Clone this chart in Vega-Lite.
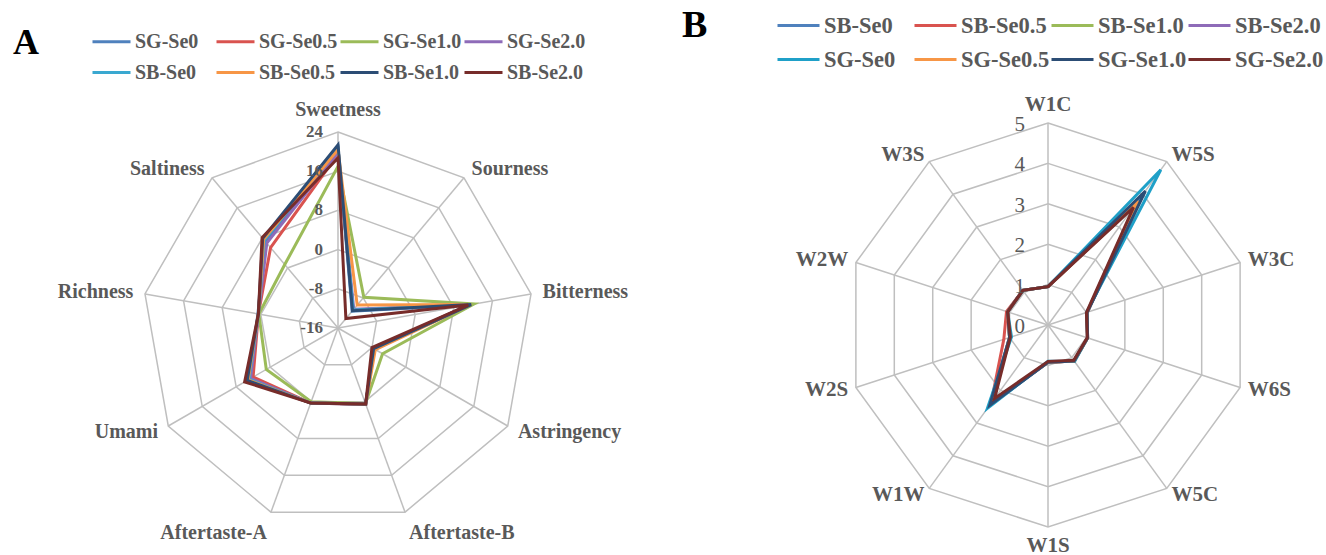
{
  "$schema": "https://vega.github.io/schema/vega-lite/v6.json",
  "padding": 0,
  "spacing": 0,
  "bounds": "flush",
  "config": {"view": {"stroke": null}},
  "datasets": {
    "axesA": [
      {"axis": "Sweetness", "rings": [-8, 0, 8, 16, 24]},
      {"axis": "Sourness", "rings": [-8, 0, 8, 16, 24]},
      {"axis": "Bitterness", "rings": [-8, 0, 8, 16, 24]},
      {"axis": "Astringency", "rings": [-8, 0, 8, 16, 24]},
      {"axis": "Aftertaste-B", "rings": [-8, 0, 8, 16, 24]},
      {"axis": "Aftertaste-A", "rings": [-8, 0, 8, 16, 24]},
      {"axis": "Umami", "rings": [-8, 0, 8, 16, 24]},
      {"axis": "Richness", "rings": [-8, 0, 8, 16, 24]},
      {"axis": "Saltiness", "rings": [-8, 0, 8, 16, 24]}
    ],
    "ticksA": [{"v": -16}, {"v": -8}, {"v": 0}, {"v": 8}, {"v": 16}, {"v": 24}],
    "seriesA": [
      {"series": "SG-Se0", "Sweetness": 20.8, "Sourness": -11.5, "Bitterness": 11.0, "Astringency": -7.6, "Aftertaste-B": 0.6, "Aftertaste-A": 0.3, "Umami": 4.8, "Richness": 0.6, "Saltiness": 7.0},
      {"series": "SG-Se0.5", "Sweetness": 19.5, "Sourness": -11.2, "Bitterness": 11.0, "Astringency": -7.6, "Aftertaste-B": 0.6, "Aftertaste-A": 0.3, "Umami": 4.0, "Richness": 0.5, "Saltiness": 5.4},
      {"series": "SG-Se1.0", "Sweetness": 17.0, "Sourness": -7.8, "Bitterness": 12.2, "Astringency": -5.5, "Aftertaste-B": 0.4, "Aftertaste-A": 0.0, "Umami": 0.9, "Richness": 0.4, "Saltiness": 0.9},
      {"series": "SG-Se2.0", "Sweetness": 19.8, "Sourness": -11.0, "Bitterness": 11.2, "Astringency": -7.4, "Aftertaste-B": 0.5, "Aftertaste-A": 0.3, "Umami": 4.6, "Richness": 0.5, "Saltiness": 6.6},
      {"series": "SB-Se0", "Sweetness": 20.6, "Sourness": -11.2, "Bitterness": 11.2, "Astringency": -7.5, "Aftertaste-B": 0.5, "Aftertaste-A": 0.3, "Umami": 5.0, "Richness": 0.5, "Saltiness": 7.4},
      {"series": "SB-Se0.5", "Sweetness": 20.4, "Sourness": -9.9, "Bitterness": 11.6, "Astringency": -7.2, "Aftertaste-B": 0.5, "Aftertaste-A": 0.3, "Umami": 5.2, "Richness": 0.5, "Saltiness": 7.6},
      {"series": "SB-Se1.0", "Sweetness": 21.4, "Sourness": -11.4, "Bitterness": 11.6, "Astringency": -7.6, "Aftertaste-B": 0.5, "Aftertaste-A": 0.3, "Umami": 5.4, "Richness": 0.5, "Saltiness": 7.9},
      {"series": "SB-Se2.0", "Sweetness": 18.7, "Sourness": -13.5, "Bitterness": 11.0, "Astringency": -8.0, "Aftertaste-B": 0.5, "Aftertaste-A": 0.3, "Umami": 6.0, "Richness": 0.5, "Saltiness": 8.1}
    ],
    "axesB": [
      {"axis": "W1C", "rings": [1, 2, 3, 4, 5]},
      {"axis": "W5S", "rings": [1, 2, 3, 4, 5]},
      {"axis": "W3C", "rings": [1, 2, 3, 4, 5]},
      {"axis": "W6S", "rings": [1, 2, 3, 4, 5]},
      {"axis": "W5C", "rings": [1, 2, 3, 4, 5]},
      {"axis": "W1S", "rings": [1, 2, 3, 4, 5]},
      {"axis": "W1W", "rings": [1, 2, 3, 4, 5]},
      {"axis": "W2S", "rings": [1, 2, 3, 4, 5]},
      {"axis": "W2W", "rings": [1, 2, 3, 4, 5]},
      {"axis": "W3S", "rings": [1, 2, 3, 4, 5]}
    ],
    "ticksB": [{"v": 0}, {"v": 1}, {"v": 2}, {"v": 3}, {"v": 4}, {"v": 5}],
    "seriesB": [
      {"series": "SB-Se0", "W1C": 0.95, "W5S": 3.95, "W3C": 1.02, "W6S": 1.03, "W5C": 1.1, "W1S": 0.92, "W1W": 2.45, "W2S": 1.0, "W2W": 1.05, "W3S": 1.06},
      {"series": "SB-Se0.5", "W1C": 0.95, "W5S": 3.75, "W3C": 1.02, "W6S": 1.03, "W5C": 1.1, "W1S": 0.92, "W1W": 2.4, "W2S": 1.15, "W2W": 1.08, "W3S": 1.06},
      {"series": "SB-Se1.0", "W1C": 0.95, "W5S": 3.7, "W3C": 1.02, "W6S": 1.03, "W5C": 1.1, "W1S": 0.92, "W1W": 2.35, "W2S": 1.0, "W2W": 1.05, "W3S": 1.06},
      {"series": "SB-Se2.0", "W1C": 0.95, "W5S": 3.7, "W3C": 1.02, "W6S": 1.03, "W5C": 1.1, "W1S": 0.92, "W1W": 2.35, "W2S": 1.0, "W2W": 1.05, "W3S": 1.06},
      {"series": "SG-Se0", "W1C": 0.95, "W5S": 4.75, "W3C": 1.0, "W6S": 1.03, "W5C": 1.12, "W1S": 0.9, "W1W": 2.55, "W2S": 0.95, "W2W": 1.05, "W3S": 1.06},
      {"series": "SG-Se0.5", "W1C": 0.95, "W5S": 3.8, "W3C": 1.02, "W6S": 1.03, "W5C": 1.1, "W1S": 0.92, "W1W": 2.35, "W2S": 1.0, "W2W": 1.05, "W3S": 1.06},
      {"series": "SG-Se1.0", "W1C": 0.95, "W5S": 4.1, "W3C": 1.02, "W6S": 1.03, "W5C": 1.1, "W1S": 0.92, "W1W": 2.45, "W2S": 1.0, "W2W": 1.05, "W3S": 1.06},
      {"series": "SG-Se2.0", "W1C": 0.95, "W5S": 3.6, "W3C": 1.0, "W6S": 1.02, "W5C": 1.08, "W1S": 0.9, "W1W": 2.25, "W2S": 0.98, "W2W": 1.05, "W3S": 1.06}
    ]
  },
  "resolve": {"scale": {"color": "independent", "x": "independent", "y": "independent"}, "legend": {"color": "independent"}},
  "hconcat": [
    {
      "width": 663,
      "height": 555,
      "encoding": {
        "x": {"field": "x", "type": "quantitative", "scale": {"domain": [-1.7245, 1.6582], "nice": false, "zero": false}, "axis": null},
        "y": {"field": "y", "type": "quantitative", "scale": {"domain": [-1.1582, 1.6735], "nice": false, "zero": false}, "axis": null}
      },
      "layer": [
        {
          "data": {"name": "axesA"},
          "transform": [
            {"flatten": ["rings"]},
            {"calculate": "indexof(['Sweetness','Sourness','Bitterness','Astringency','Aftertaste-B','Aftertaste-A','Umami','Richness','Saltiness'], datum.axis)", "as": "i"},
            {"calculate": "(datum.rings + 16) / 40", "as": "r"},
            {"calculate": "datum.r * sin(datum.i * 2 * PI / 9)", "as": "x"},
            {"calculate": "datum.r * cos(datum.i * 2 * PI / 9)", "as": "y"}
          ],
          "mark": {"type": "line", "interpolate": "linear-closed", "color": "#BFBFBF", "strokeWidth": 1.5},
          "encoding": {"detail": {"field": "rings"}, "order": {"field": "i", "type": "quantitative"}}
        },
        {
          "data": {"name": "axesA"},
          "transform": [
            {"calculate": "indexof(['Sweetness','Sourness','Bitterness','Astringency','Aftertaste-B','Aftertaste-A','Umami','Richness','Saltiness'], datum.axis)", "as": "i"},
            {"calculate": "0", "as": "x"},
            {"calculate": "0", "as": "y"},
            {"calculate": "sin(datum.i * 2 * PI / 9)", "as": "ox"},
            {"calculate": "cos(datum.i * 2 * PI / 9)", "as": "oy"}
          ],
          "mark": {"type": "rule", "color": "#BFBFBF", "strokeWidth": 1.5},
          "encoding": {"x2": {"field": "ox"}, "y2": {"field": "oy"}}
        },
        {
          "data": {"name": "seriesA"},
          "transform": [
            {"fold": ["Sweetness", "Sourness", "Bitterness", "Astringency", "Aftertaste-B", "Aftertaste-A", "Umami", "Richness", "Saltiness"], "as": ["axis", "value"]},
            {"calculate": "indexof(['Sweetness','Sourness','Bitterness','Astringency','Aftertaste-B','Aftertaste-A','Umami','Richness','Saltiness'], datum.axis)", "as": "i"},
            {"calculate": "(datum.value + 16) / 40", "as": "r"},
            {"calculate": "datum.r * sin(datum.i * 2 * PI / 9)", "as": "x"},
            {"calculate": "datum.r * cos(datum.i * 2 * PI / 9)", "as": "y"}
          ],
          "mark": {"type": "line", "interpolate": "linear-closed", "strokeWidth": 3},
          "encoding": {
            "order": {"field": "i", "type": "quantitative"},
            "color": {
              "field": "series", "type": "nominal",
              "scale": {"domain": ["SG-Se0", "SG-Se0.5", "SG-Se1.0", "SG-Se2.0", "SB-Se0", "SB-Se0.5", "SB-Se1.0", "SB-Se2.0"],
                        "range": ["#4F81BD", "#D9534F", "#9BBB59", "#8E6BB8", "#3AA8D0", "#F79646", "#2C4D75", "#772C2A"]},
              "legend": {"orient": "none", "legendX": 13, "legendY": 21, "direction": "horizontal", "columns": 4, "gridAlign": "all", "columnPadding": -4, "rowPadding": -2,
                         "symbolType": "stroke", "symbolSize": 1444, "symbolStrokeWidth": 3, "labelFont": "Liberation Serif", "labelFontSize": 20, "labelFontWeight": "bold", "labelColor": "#595959", "labelOffset": 3,
                         "title": "A", "titleOrient": "left", "titleAnchor": "start", "titleBaseline": "line-top", "titleLineHeight": 46, "titleFont": "Liberation Serif", "titleFontSize": 36, "titleFontWeight": "bold", "titleColor": "#000000", "titlePadding": 52}
            }
          }
        },
        {
          "data": {"name": "axesA"},
          "transform": [
            {"calculate": "indexof(['Sweetness','Sourness','Bitterness','Astringency','Aftertaste-B','Aftertaste-A','Umami','Richness','Saltiness'], datum.axis)", "as": "i"},
            {"calculate": "sin(datum.i * 2 * PI / 9)", "as": "sx"},
            {"calculate": "cos(datum.i * 2 * PI / 9)", "as": "sy"},
            {"calculate": "1.06 * datum.sx", "as": "x"},
            {"calculate": "1.06 * datum.sy", "as": "y"}
          ],
          "mark": {"type": "text", "font": "Liberation Serif", "fontSize": 20, "fontWeight": "bold", "color": "#595959",
                   "align": {"expr": "datum.sx > 0.1 ? 'left' : (datum.sx < -0.1 ? 'right' : 'center')"},
                   "baseline": {"expr": "datum.sy > 0.9 ? 'bottom' : (datum.sy < -0.9 ? 'top' : 'middle')"}},
          "encoding": {"text": {"field": "axis"}}
        },
        {
          "data": {"name": "ticksA"},
          "transform": [
            {"calculate": "0", "as": "x"},
            {"calculate": "(datum.v + 16) / 40", "as": "y"}
          ],
          "mark": {"type": "text", "font": "Liberation Serif", "fontSize": 17, "fontWeight": "bold", "color": "#595959", "align": "right", "baseline": "middle", "dx": -15},
          "encoding": {"text": {"field": "v", "type": "nominal"}}
        }
      ]
    },
    {
      "width": 663,
      "height": 555,
      "encoding": {
        "x": {"field": "x", "type": "quantitative", "scale": {"domain": [-1.9059, 1.3762], "nice": false, "zero": false}, "axis": null},
        "y": {"field": "y", "type": "quantitative", "scale": {"domain": [-1.1386, 1.6089], "nice": false, "zero": false}, "axis": null}
      },
      "layer": [
        {
          "data": {"name": "axesB"},
          "transform": [
            {"flatten": ["rings"]},
            {"calculate": "indexof(['W1C','W5S','W3C','W6S','W5C','W1S','W1W','W2S','W2W','W3S'], datum.axis)", "as": "i"},
            {"calculate": "datum.rings / 5", "as": "r"},
            {"calculate": "datum.r * sin(datum.i * 2 * PI / 10)", "as": "x"},
            {"calculate": "datum.r * cos(datum.i * 2 * PI / 10)", "as": "y"}
          ],
          "mark": {"type": "line", "interpolate": "linear-closed", "color": "#BFBFBF", "strokeWidth": 1.5},
          "encoding": {"detail": {"field": "rings"}, "order": {"field": "i", "type": "quantitative"}}
        },
        {
          "data": {"name": "axesB"},
          "transform": [
            {"calculate": "indexof(['W1C','W5S','W3C','W6S','W5C','W1S','W1W','W2S','W2W','W3S'], datum.axis)", "as": "i"},
            {"calculate": "0", "as": "x"},
            {"calculate": "0", "as": "y"},
            {"calculate": "sin(datum.i * 2 * PI / 10)", "as": "ox"},
            {"calculate": "cos(datum.i * 2 * PI / 10)", "as": "oy"}
          ],
          "mark": {"type": "rule", "color": "#BFBFBF", "strokeWidth": 1.5},
          "encoding": {"x2": {"field": "ox"}, "y2": {"field": "oy"}}
        },
        {
          "data": {"name": "seriesB"},
          "transform": [
            {"fold": ["W1C", "W5S", "W3C", "W6S", "W5C", "W1S", "W1W", "W2S", "W2W", "W3S"], "as": ["axis", "value"]},
            {"calculate": "indexof(['W1C','W5S','W3C','W6S','W5C','W1S','W1W','W2S','W2W','W3S'], datum.axis)", "as": "i"},
            {"calculate": "datum.value / 5", "as": "r"},
            {"calculate": "datum.r * sin(datum.i * 2 * PI / 10)", "as": "x"},
            {"calculate": "datum.r * cos(datum.i * 2 * PI / 10)", "as": "y"}
          ],
          "mark": {"type": "line", "interpolate": "linear-closed", "strokeWidth": 3},
          "encoding": {
            "order": {"field": "i", "type": "quantitative"},
            "color": {
              "field": "series", "type": "nominal",
              "scale": {"domain": ["SB-Se0", "SB-Se0.5", "SB-Se1.0", "SB-Se2.0", "SG-Se0", "SG-Se0.5", "SG-Se1.0", "SG-Se2.0"],
                        "range": ["#4F81BD", "#D9534F", "#9BBB59", "#8E6BB8", "#1FA0C8", "#F79646", "#2C4D75", "#772C2A"]},
              "legend": {"orient": "none", "legendX": 19, "legendY": 3, "direction": "horizontal", "columns": 4, "gridAlign": "all", "columnPadding": -7.5, "rowPadding": -2,
                         "symbolType": "stroke", "symbolSize": 1764, "symbolStrokeWidth": 3, "labelFont": "Liberation Serif", "labelFontSize": 22.5, "labelFontWeight": "bold", "labelColor": "#595959", "labelOffset": 3,
                         "title": "B", "titleOrient": "left", "titleAnchor": "start", "titleBaseline": "line-top", "titleLineHeight": 46, "titleFont": "Liberation Serif", "titleFontSize": 38, "titleFontWeight": "bold", "titleColor": "#000000", "titlePadding": 68}
            }
          }
        },
        {
          "data": {"name": "axesB"},
          "transform": [
            {"calculate": "indexof(['W1C','W5S','W3C','W6S','W5C','W1S','W1W','W2S','W2W','W3S'], datum.axis)", "as": "i"},
            {"calculate": "sin(datum.i * 2 * PI / 10)", "as": "sx"},
            {"calculate": "cos(datum.i * 2 * PI / 10)", "as": "sy"},
            {"calculate": "1.04 * datum.sx", "as": "x"},
            {"calculate": "1.04 * datum.sy", "as": "y"}
          ],
          "mark": {"type": "text", "font": "Liberation Serif", "fontSize": 21, "fontWeight": "bold", "color": "#595959",
                   "align": {"expr": "datum.sx > 0.1 ? 'left' : (datum.sx < -0.1 ? 'right' : 'center')"},
                   "baseline": {"expr": "datum.sy > 0.9 ? 'bottom' : (datum.sy < -0.9 ? 'top' : 'middle')"}},
          "encoding": {"text": {"field": "axis"}}
        },
        {
          "data": {"name": "ticksB"},
          "transform": [
            {"calculate": "0", "as": "x"},
            {"calculate": "datum.v / 5", "as": "y"}
          ],
          "mark": {"type": "text", "font": "Liberation Serif", "fontSize": 21, "color": "#595959", "align": "right", "baseline": "middle", "dx": -23, "dy": 2},
          "encoding": {"text": {"field": "v", "type": "nominal"}}
        }
      ]
    }
  ]
}
